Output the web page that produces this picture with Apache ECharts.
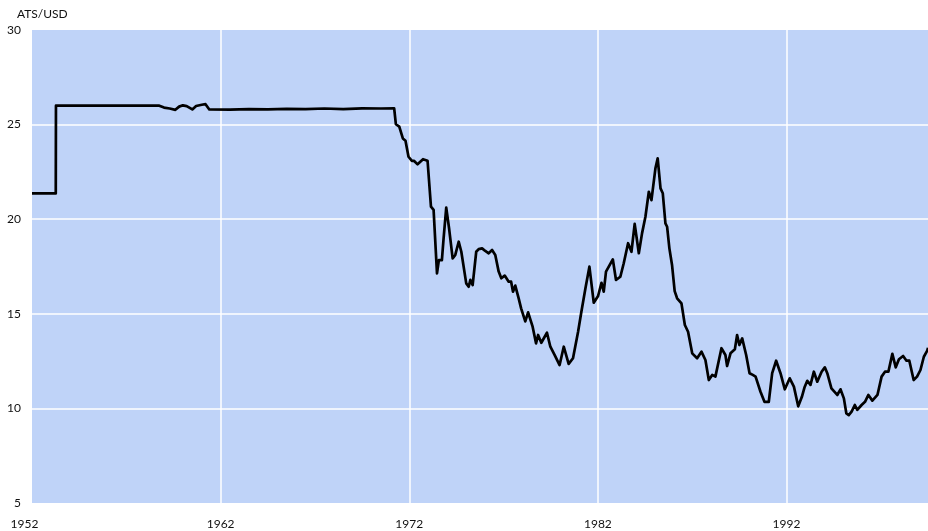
<!DOCTYPE html>
<html>
<head>
<meta charset="utf-8">
<script src="https://cdn.jsdelivr.net/npm/echarts@6/dist/echarts.min.js"></script>
<style>html,body{margin:0;padding:0;background:#fff}#c{width:928px;height:531px}</style>
</head>
<body>
<div id="c"></div>
<script>
// Decimal years of observations
const years = [
  1952.0, 1953.26, 1953.27, 1958.75, 1959.0, 1959.3, 1959.6, 1959.8, 1960.0, 1960.2,
  1960.5, 1960.7, 1961.0, 1961.2, 1961.4, 1962.5, 1963.5, 1964.5, 1965.5, 1966.5,
  1967.5, 1968.5, 1969.5, 1970.5, 1971.2,
  1971.29, 1971.47, 1971.66, 1971.8, 1971.96, 1972.14, 1972.26, 1972.44, 1972.73, 1972.97,
  1973.15, 1973.29, 1973.47, 1973.57, 1973.73, 1973.82, 1973.96, 1974.11, 1974.30, 1974.44,
  1974.62, 1974.76, 1975.02, 1975.15, 1975.24, 1975.36, 1975.55, 1975.68, 1975.86, 1976.03,
  1976.21, 1976.39, 1976.56, 1976.74, 1976.88, 1977.06, 1977.27, 1977.40, 1977.50, 1977.62,
  1977.80, 1977.93, 1978.15, 1978.30, 1978.54, 1978.72, 1978.83, 1979.0, 1979.3, 1979.48,
  1979.71, 1979.97, 1980.19, 1980.45, 1980.68, 1980.95, 1981.12, 1981.34, 1981.55, 1981.78,
  1982.01, 1982.19, 1982.31, 1982.43, 1982.79, 1982.96, 1983.19, 1983.37, 1983.60, 1983.78,
  1983.95, 1984.17, 1984.34, 1984.52, 1984.70, 1984.84, 1985.05, 1985.17, 1985.32, 1985.44,
  1985.58, 1985.67, 1985.79, 1985.93, 1986.07, 1986.2, 1986.43, 1986.61, 1986.78, 1987.0,
  1987.26, 1987.49, 1987.70, 1987.88, 1988.06, 1988.23, 1988.55, 1988.76, 1988.85, 1989.03,
  1989.26, 1989.38, 1989.5, 1989.65, 1989.86, 1990.04, 1990.21, 1990.36, 1990.62, 1990.83,
  1991.06, 1991.24, 1991.45, 1991.68, 1991.91, 1992.17, 1992.39, 1992.62, 1992.81, 1992.95,
  1993.10, 1993.27, 1993.45, 1993.63, 1993.86, 1994.03, 1994.16, 1994.38, 1994.69, 1994.86,
  1995.04, 1995.17, 1995.30, 1995.45, 1995.62, 1995.75, 1995.98, 1996.16, 1996.34, 1996.55,
  1996.82, 1997.04, 1997.22, 1997.40, 1997.61, 1997.79, 1997.96, 1998.18, 1998.36, 1998.51,
  1998.74, 1998.92, 1999.10, 1999.28, 1999.46, 1999.5
];
// ATS per USD
const rates = [
  21.36, 21.36, 26.0, 26.0, 25.9, 25.85, 25.78, 25.95, 26.02, 25.98,
  25.8, 25.98, 26.05, 26.08, 25.8, 25.79, 25.82, 25.8, 25.83, 25.82,
  25.85, 25.82, 25.86, 25.85, 25.86,
  25.02, 24.89, 24.27, 24.15, 23.30, 23.08, 23.08, 22.90, 23.17, 23.09,
  20.66, 20.49, 17.14, 17.84, 17.84, 18.99, 20.61, 19.52, 17.93, 18.11,
  18.81, 18.28, 16.61, 16.43, 16.79, 16.52, 18.28, 18.42, 18.46, 18.32,
  18.20, 18.37, 18.11, 17.23, 16.88, 17.02, 16.70, 16.70, 16.17, 16.49,
  15.82, 15.29, 14.60, 15.08, 14.32, 13.44, 13.88, 13.47, 14.00, 13.26,
  12.82, 12.29, 13.26, 12.35, 12.65, 14.05, 15.08, 16.35, 17.49, 15.59,
  15.94, 16.64, 16.17, 17.23, 17.88, 16.79, 16.96, 17.67, 18.73, 18.28,
  19.75, 18.20, 19.25, 20.13, 21.45, 21.01, 22.69, 23.22, 21.63, 21.37,
  19.78, 19.60, 18.46, 17.58, 16.20, 15.82, 15.55, 14.41, 14.05, 12.91,
  12.65, 13.0, 12.56, 11.50, 11.77, 11.68, 13.18, 12.82, 12.24, 12.91,
  13.12, 13.88, 13.35, 13.70, 12.82, 11.86, 11.77, 11.68, 10.88, 10.35,
  10.35, 11.86, 12.52, 11.86, 11.01, 11.59, 11.15, 10.11, 10.6, 11.1,
  11.46, 11.24, 11.94, 11.41, 11.94, 12.17, 11.86, 11.06, 10.71, 11.01,
  10.53, 9.74, 9.65, 9.83, 10.18, 9.92, 10.18, 10.35, 10.71, 10.41,
  10.71, 11.68, 11.94, 11.94, 12.88, 12.17, 12.60, 12.77, 12.52, 12.52,
  11.50, 11.68, 12.03, 12.73, 13.05, 13.2
];
const startYear = 1952;
const endYear = 1999.5;
const yTicks = [5, 10, 15, 20, 25, 30];
const unitLabel = 'ATS/USD';

const data = years.map((y, i) => [y - startYear, rates[i]]);
const font = 'Lato, "Open Sans", sans-serif';
const chart = echarts.init(document.getElementById('c'), null, {renderer: 'canvas'});
chart.setOption({
  animation: false,
  title: {
    text: unitLabel, left: 12, top: 3,
    textStyle: {fontSize: 12, fontWeight: 'normal', color: '#111', fontFamily: font}
  },
  grid: {
    left: 32, right: 0, top: 30, bottom: 28, containLabel: false,
    show: true, backgroundColor: '#BFD3F8', borderWidth: 0
  },
  xAxis: {
    type: 'value', min: 0, max: endYear - startYear, interval: 10,
    axisLine: {show: false}, axisTick: {show: false},
    axisLabel: {
      color: '#111', fontSize: 12, fontFamily: font, margin: 15,
      showMaxLabel: false,
      formatter: v => v === 0 ? '{m|' + startYear + '}' : String(Math.round(v + startYear)),
      rich: {m: {color: '#111', fontSize: 12, fontFamily: font, padding: [0, 15, 0, 0]}}
    },
    splitLine: {show: true, showMinLine: false, showMaxLine: false, lineStyle: {color: '#ffffff', width: 1.5}}
  },
  yAxis: {
    type: 'value', min: yTicks[0], max: yTicks[yTicks.length - 1], interval: 5,
    axisLine: {show: false}, axisTick: {show: false},
    axisLabel: {color: '#111', fontSize: 12, fontFamily: font, margin: 11},
    splitLine: {show: true, showMinLine: false, showMaxLine: false, lineStyle: {color: '#ffffff', width: 1.5}}
  },
  series: [{
    type: 'line', data: data, showSymbol: false, symbol: 'none',
    lineStyle: {color: '#000', width: 2.7, join: 'round'}
  }]
});
</script>
</body>
</html>
